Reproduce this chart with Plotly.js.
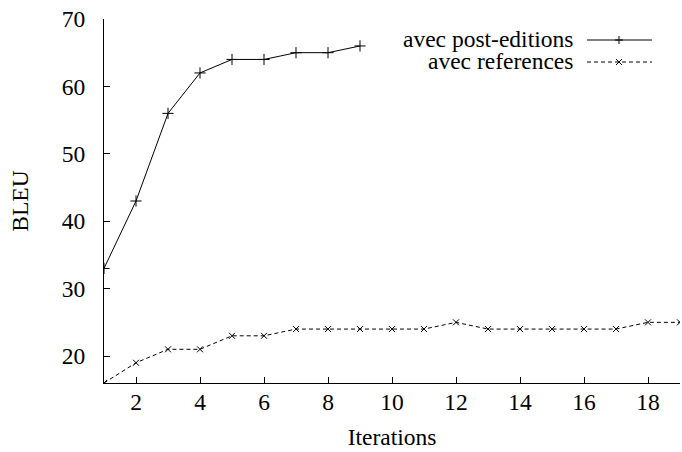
<!DOCTYPE html>
<html><head><meta charset="utf-8">
<script src="https://cdn.plot.ly/plotly-3.0.1.min.js"></script>
<style>body{margin:0;background:#fff}#c{width:682px;height:452px}</style>
</head><body><div id="c"></div>
<script>
const iterPost = [1,2,3,4,5,6,7,8,9];
const bleuPost = [33,43,56,62,64,64,65,65,66];
const iterRef = [1,2,3,4,5,6,7,8,9,10,11,12,13,14,15,16,17,18,19];
const bleuRef = [16,19,21,21,23,23,24,24,24,24,24,25,24,24,24,24,24,25,25];
const labelPost = "avec post-editions";
const labelRef = "avec references";
const xTicks = [2,4,6,8,10,12,14,16,18];
const yTicks = [20,30,40,50,60,70];

const FONT = "Liberation Serif, Times New Roman, serif";
const FS = 23.5;
const W = 682, H = 452, L = 104, R = 2, T = 19, B = 69;
const pw = W - L - R, ph = H - T - B;
const px = x => (x - L) / pw;
const py = y => (H - B - y) / ph;

const traces = [
  {x: iterPost, y: bleuPost, mode: "lines+markers", name: labelPost,
   line: {color: "#000", width: 1}, marker: {symbol: "cross-thin-open", size: 8, line: {color: "#000", width: 1}}},
  {x: iterRef, y: bleuRef, mode: "lines+markers", name: labelRef,
   line: {color: "#000", width: 1, dash: "4px,3px"}, marker: {symbol: "x-thin-open", size: 6, line: {color: "#000", width: 1}}}
];

function legendShapes(yPix, dash, sym) {
  const s = [{type: "line", xref: "paper", yref: "paper", x0: px(587), x1: px(652), y0: py(yPix), y1: py(yPix),
              line: {color: "#000", width: 1, dash: dash}}];
  const cx = 619, h = sym === "+" ? 4 : 3;
  if (sym === "+") {
    s.push({type: "line", xref: "paper", yref: "paper", x0: px(cx - h), x1: px(cx + h), y0: py(yPix), y1: py(yPix), line: {color: "#000", width: 1}});
    s.push({type: "line", xref: "paper", yref: "paper", x0: px(cx), x1: px(cx), y0: py(yPix - h), y1: py(yPix + h), line: {color: "#000", width: 1}});
  } else {
    s.push({type: "line", xref: "paper", yref: "paper", x0: px(cx - h), x1: px(cx + h), y0: py(yPix - h), y1: py(yPix + h), line: {color: "#000", width: 1}});
    s.push({type: "line", xref: "paper", yref: "paper", x0: px(cx - h), x1: px(cx + h), y0: py(yPix + h), y1: py(yPix - h), line: {color: "#000", width: 1}});
  }
  return s;
}

const layout = {
  width: W, height: H,
  margin: {l: L, r: R, t: T, b: B},
  paper_bgcolor: "#fff", plot_bgcolor: "#fff",
  showlegend: false,
  font: {family: FONT, size: FS, color: "#000"},
  xaxis: {range: [1, 19], tickvals: xTicks, ticks: "inside", ticklen: 6, tickcolor: "#000",
          showline: true, linecolor: "#000", linewidth: 1, showgrid: false, zeroline: false,
          ticklabelstandoff: -2,
          title: {text: "Iterations", font: {family: FONT, size: FS}, standoff: 14}},
  yaxis: {range: [16, 70], tickvals: yTicks, ticks: "inside", ticklen: 6, tickcolor: "#000",
          showline: true, linecolor: "#000", linewidth: 1, showgrid: false, zeroline: false,
          ticklabelstandoff: 13,
          title: {text: "BLEU", font: {family: FONT, size: FS}, standoff: 26}},
  annotations: [
    {xref: "paper", yref: "paper", x: px(574), y: py(39), xanchor: "right", yanchor: "middle", text: labelPost, showarrow: false, borderpad: 0, font: {family: FONT, size: FS}},
    {xref: "paper", yref: "paper", x: px(574), y: py(61), xanchor: "right", yanchor: "middle", text: labelRef, showarrow: false, borderpad: 0, font: {family: FONT, size: FS}}
  ],
  shapes: [].concat(legendShapes(40, "solid", "+"), legendShapes(62, "4px,3px", "x"))
};
Plotly.newPlot("c", traces, layout, {displayModeBar: false, staticPlot: true});
</script></body></html>
